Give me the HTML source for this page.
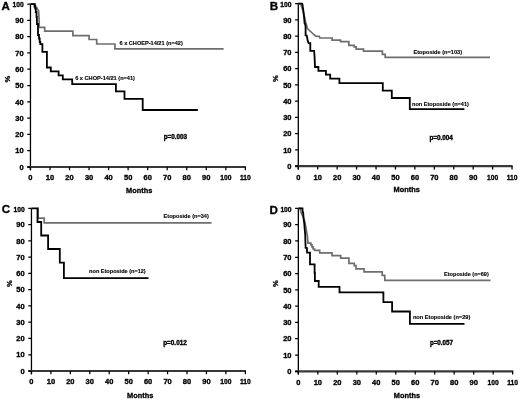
<!DOCTYPE html>
<html><head><meta charset="utf-8"><style>
html,body{margin:0;padding:0;background:#fff;}
svg{display:block;will-change:transform;}
text{font-family:"Liberation Sans", sans-serif;font-weight:bold;fill:#000;stroke:#000;stroke-width:0.3px;}
</style></head><body>
<svg width="520" height="400" viewBox="0 0 520 400">
<rect width="520" height="400" fill="#fff"/>
<path d="M30.45 4.05V170.20" stroke="#000" stroke-width="1.3" fill="none"/>
<path d="M27.25 167.00H245.95" stroke="#383838" stroke-width="2.2" fill="none"/>
<path d="M27.25 167.00H30.45M27.25 150.71H30.45M27.25 134.41H30.45M27.25 118.12H30.45M27.25 101.82H30.45M27.25 85.53H30.45M27.25 69.23H30.45M27.25 52.94H30.45M27.25 36.64H30.45M27.25 20.34H30.45M27.25 4.05H30.45M30.45 167.00V170.20M49.99 167.00V170.20M69.52 167.00V170.20M89.06 167.00V170.20M108.60 167.00V170.20M128.13 167.00V170.20M147.67 167.00V170.20M167.20 167.00V170.20M186.74 167.00V170.20M206.28 167.00V170.20M225.81 167.00V170.20M245.35 167.00V170.20" stroke="#000" stroke-width="1.25" fill="none"/>
<text transform="translate(23.65 169.70) scale(1.12 1)" font-size="6.7" text-anchor="end">0</text>
<text transform="translate(23.65 153.41) scale(1.12 1)" font-size="6.7" text-anchor="end">10</text>
<text transform="translate(23.65 137.11) scale(1.12 1)" font-size="6.7" text-anchor="end">20</text>
<text transform="translate(23.65 120.82) scale(1.12 1)" font-size="6.7" text-anchor="end">30</text>
<text transform="translate(23.65 104.52) scale(1.12 1)" font-size="6.7" text-anchor="end">40</text>
<text transform="translate(23.65 88.23) scale(1.12 1)" font-size="6.7" text-anchor="end">50</text>
<text transform="translate(23.65 71.93) scale(1.12 1)" font-size="6.7" text-anchor="end">60</text>
<text transform="translate(23.65 55.64) scale(1.12 1)" font-size="6.7" text-anchor="end">70</text>
<text transform="translate(23.65 39.34) scale(1.12 1)" font-size="6.7" text-anchor="end">80</text>
<text transform="translate(23.65 23.04) scale(1.12 1)" font-size="6.7" text-anchor="end">90</text>
<text transform="translate(23.65 7.25) scale(1.0 1)" font-size="6.7" text-anchor="end">100</text>
<text transform="translate(30.45 180.45) scale(1.12 1)" font-size="6.7" text-anchor="middle">0</text>
<text transform="translate(49.99 180.45) scale(1.12 1)" font-size="6.7" text-anchor="middle">10</text>
<text transform="translate(69.52 180.45) scale(1.12 1)" font-size="6.7" text-anchor="middle">20</text>
<text transform="translate(89.06 180.45) scale(1.12 1)" font-size="6.7" text-anchor="middle">30</text>
<text transform="translate(108.60 180.45) scale(1.12 1)" font-size="6.7" text-anchor="middle">40</text>
<text transform="translate(128.13 180.45) scale(1.12 1)" font-size="6.7" text-anchor="middle">50</text>
<text transform="translate(147.67 180.45) scale(1.12 1)" font-size="6.7" text-anchor="middle">60</text>
<text transform="translate(167.20 180.45) scale(1.12 1)" font-size="6.7" text-anchor="middle">70</text>
<text transform="translate(186.74 180.45) scale(1.12 1)" font-size="6.7" text-anchor="middle">80</text>
<text transform="translate(206.28 180.45) scale(1.12 1)" font-size="6.7" text-anchor="middle">90</text>
<text transform="translate(225.81 180.45) scale(1.0 1)" font-size="6.7" text-anchor="middle">100</text>
<text transform="translate(245.35 180.45) scale(1.0 1)" font-size="6.7" text-anchor="middle">110</text>
<text x="126.10" y="193.30" font-size="7.3" textLength="26.2" lengthAdjust="spacingAndGlyphs">Months</text>
<text x="0" y="0" font-size="7.6" text-anchor="middle" transform="translate(9.90 79.20) rotate(-90)">%</text>
<text x="1.60" y="10.20" font-size="11.6">A</text>
<path d="M298.30 3.60V169.40" stroke="#000" stroke-width="1.3" fill="none"/>
<path d="M295.10 166.15H512.65" stroke="#383838" stroke-width="2.2" fill="none"/>
<path d="M295.10 166.15H298.30M295.10 149.90H298.30M295.10 133.64H298.30M295.10 117.38H298.30M295.10 101.13H298.30M295.10 84.88H298.30M295.10 68.62H298.30M295.10 52.36H298.30M295.10 36.11H298.30M295.10 19.85H298.30M295.10 3.60H298.30M298.30 166.15V169.40M317.73 166.15V169.40M337.16 166.15V169.40M356.60 166.15V169.40M376.03 166.15V169.40M395.46 166.15V169.40M414.89 166.15V169.40M434.32 166.15V169.40M453.75 166.15V169.40M473.19 166.15V169.40M492.62 166.15V169.40M512.05 166.15V169.40" stroke="#000" stroke-width="1.25" fill="none"/>
<text transform="translate(291.50 168.85) scale(1.12 1)" font-size="6.7" text-anchor="end">0</text>
<text transform="translate(291.50 152.59) scale(1.12 1)" font-size="6.7" text-anchor="end">10</text>
<text transform="translate(291.50 136.34) scale(1.12 1)" font-size="6.7" text-anchor="end">20</text>
<text transform="translate(291.50 120.08) scale(1.12 1)" font-size="6.7" text-anchor="end">30</text>
<text transform="translate(291.50 103.83) scale(1.12 1)" font-size="6.7" text-anchor="end">40</text>
<text transform="translate(291.50 87.58) scale(1.12 1)" font-size="6.7" text-anchor="end">50</text>
<text transform="translate(291.50 71.32) scale(1.12 1)" font-size="6.7" text-anchor="end">60</text>
<text transform="translate(291.50 55.06) scale(1.12 1)" font-size="6.7" text-anchor="end">70</text>
<text transform="translate(291.50 38.81) scale(1.12 1)" font-size="6.7" text-anchor="end">80</text>
<text transform="translate(291.50 22.55) scale(1.12 1)" font-size="6.7" text-anchor="end">90</text>
<text transform="translate(291.50 6.80) scale(1.0 1)" font-size="6.7" text-anchor="end">100</text>
<text transform="translate(298.30 179.60) scale(1.12 1)" font-size="6.7" text-anchor="middle">0</text>
<text transform="translate(317.73 179.60) scale(1.12 1)" font-size="6.7" text-anchor="middle">10</text>
<text transform="translate(337.16 179.60) scale(1.12 1)" font-size="6.7" text-anchor="middle">20</text>
<text transform="translate(356.60 179.60) scale(1.12 1)" font-size="6.7" text-anchor="middle">30</text>
<text transform="translate(376.03 179.60) scale(1.12 1)" font-size="6.7" text-anchor="middle">40</text>
<text transform="translate(395.46 179.60) scale(1.12 1)" font-size="6.7" text-anchor="middle">50</text>
<text transform="translate(414.89 179.60) scale(1.12 1)" font-size="6.7" text-anchor="middle">60</text>
<text transform="translate(434.32 179.60) scale(1.12 1)" font-size="6.7" text-anchor="middle">70</text>
<text transform="translate(453.75 179.60) scale(1.12 1)" font-size="6.7" text-anchor="middle">80</text>
<text transform="translate(473.19 179.60) scale(1.12 1)" font-size="6.7" text-anchor="middle">90</text>
<text transform="translate(492.62 179.60) scale(1.0 1)" font-size="6.7" text-anchor="middle">100</text>
<text transform="translate(512.05 179.60) scale(1.0 1)" font-size="6.7" text-anchor="middle">110</text>
<text x="393.60" y="192.30" font-size="7.3" textLength="26.2" lengthAdjust="spacingAndGlyphs">Months</text>
<text x="0" y="0" font-size="7.6" text-anchor="middle" transform="translate(277.80 78.50) rotate(-90)">%</text>
<text x="269.80" y="10.30" font-size="11.6">B</text>
<path d="M31.45 208.45V374.30" stroke="#000" stroke-width="1.3" fill="none"/>
<path d="M28.25 371.00H245.95" stroke="#383838" stroke-width="2.2" fill="none"/>
<path d="M28.25 371.00H31.45M28.25 354.75H31.45M28.25 338.49H31.45M28.25 322.24H31.45M28.25 305.98H31.45M28.25 289.73H31.45M28.25 273.47H31.45M28.25 257.21H31.45M28.25 240.96H31.45M28.25 224.70H31.45M28.25 208.45H31.45M31.45 371.00V374.30M50.90 371.00V374.30M70.34 371.00V374.30M89.79 371.00V374.30M109.23 371.00V374.30M128.68 371.00V374.30M148.12 371.00V374.30M167.57 371.00V374.30M187.01 371.00V374.30M206.46 371.00V374.30M225.90 371.00V374.30M245.35 371.00V374.30" stroke="#000" stroke-width="1.25" fill="none"/>
<text transform="translate(24.65 373.70) scale(1.12 1)" font-size="6.7" text-anchor="end">0</text>
<text transform="translate(24.65 357.44) scale(1.12 1)" font-size="6.7" text-anchor="end">10</text>
<text transform="translate(24.65 341.19) scale(1.12 1)" font-size="6.7" text-anchor="end">20</text>
<text transform="translate(24.65 324.94) scale(1.12 1)" font-size="6.7" text-anchor="end">30</text>
<text transform="translate(24.65 308.68) scale(1.12 1)" font-size="6.7" text-anchor="end">40</text>
<text transform="translate(24.65 292.43) scale(1.12 1)" font-size="6.7" text-anchor="end">50</text>
<text transform="translate(24.65 276.17) scale(1.12 1)" font-size="6.7" text-anchor="end">60</text>
<text transform="translate(24.65 259.91) scale(1.12 1)" font-size="6.7" text-anchor="end">70</text>
<text transform="translate(24.65 243.66) scale(1.12 1)" font-size="6.7" text-anchor="end">80</text>
<text transform="translate(24.65 227.40) scale(1.12 1)" font-size="6.7" text-anchor="end">90</text>
<text transform="translate(24.65 211.65) scale(1.0 1)" font-size="6.7" text-anchor="end">100</text>
<text transform="translate(31.45 384.45) scale(1.12 1)" font-size="6.7" text-anchor="middle">0</text>
<text transform="translate(50.90 384.45) scale(1.12 1)" font-size="6.7" text-anchor="middle">10</text>
<text transform="translate(70.34 384.45) scale(1.12 1)" font-size="6.7" text-anchor="middle">20</text>
<text transform="translate(89.79 384.45) scale(1.12 1)" font-size="6.7" text-anchor="middle">30</text>
<text transform="translate(109.23 384.45) scale(1.12 1)" font-size="6.7" text-anchor="middle">40</text>
<text transform="translate(128.68 384.45) scale(1.12 1)" font-size="6.7" text-anchor="middle">50</text>
<text transform="translate(148.12 384.45) scale(1.12 1)" font-size="6.7" text-anchor="middle">60</text>
<text transform="translate(167.57 384.45) scale(1.12 1)" font-size="6.7" text-anchor="middle">70</text>
<text transform="translate(187.01 384.45) scale(1.12 1)" font-size="6.7" text-anchor="middle">80</text>
<text transform="translate(206.46 384.45) scale(1.12 1)" font-size="6.7" text-anchor="middle">90</text>
<text transform="translate(225.90 384.45) scale(1.0 1)" font-size="6.7" text-anchor="middle">100</text>
<text transform="translate(245.35 384.45) scale(1.0 1)" font-size="6.7" text-anchor="middle">110</text>
<text x="127.10" y="397.50" font-size="7.3" textLength="26.2" lengthAdjust="spacingAndGlyphs">Months</text>
<text x="0" y="0" font-size="7.6" text-anchor="middle" transform="translate(11.60 283.50) rotate(-90)">%</text>
<text x="1.80" y="212.80" font-size="11.6">C</text>
<path d="M298.35 208.40V374.50" stroke="#000" stroke-width="1.3" fill="none"/>
<path d="M295.15 371.30H513.25" stroke="#383838" stroke-width="2.2" fill="none"/>
<path d="M295.15 371.30H298.35M295.15 355.01H298.35M295.15 338.72H298.35M295.15 322.43H298.35M295.15 306.14H298.35M295.15 289.85H298.35M295.15 273.56H298.35M295.15 257.27H298.35M295.15 240.98H298.35M295.15 224.69H298.35M295.15 208.40H298.35M298.35 371.30V374.50M317.83 371.30V374.50M337.31 371.30V374.50M356.80 371.30V374.50M376.28 371.30V374.50M395.76 371.30V374.50M415.24 371.30V374.50M434.72 371.30V374.50M454.20 371.30V374.50M473.69 371.30V374.50M493.17 371.30V374.50M512.65 371.30V374.50" stroke="#000" stroke-width="1.25" fill="none"/>
<text transform="translate(291.55 374.00) scale(1.12 1)" font-size="6.7" text-anchor="end">0</text>
<text transform="translate(291.55 357.71) scale(1.12 1)" font-size="6.7" text-anchor="end">10</text>
<text transform="translate(291.55 341.42) scale(1.12 1)" font-size="6.7" text-anchor="end">20</text>
<text transform="translate(291.55 325.13) scale(1.12 1)" font-size="6.7" text-anchor="end">30</text>
<text transform="translate(291.55 308.84) scale(1.12 1)" font-size="6.7" text-anchor="end">40</text>
<text transform="translate(291.55 292.55) scale(1.12 1)" font-size="6.7" text-anchor="end">50</text>
<text transform="translate(291.55 276.26) scale(1.12 1)" font-size="6.7" text-anchor="end">60</text>
<text transform="translate(291.55 259.97) scale(1.12 1)" font-size="6.7" text-anchor="end">70</text>
<text transform="translate(291.55 243.68) scale(1.12 1)" font-size="6.7" text-anchor="end">80</text>
<text transform="translate(291.55 227.39) scale(1.12 1)" font-size="6.7" text-anchor="end">90</text>
<text transform="translate(291.55 211.60) scale(1.0 1)" font-size="6.7" text-anchor="end">100</text>
<text transform="translate(298.35 384.75) scale(1.12 1)" font-size="6.7" text-anchor="middle">0</text>
<text transform="translate(317.83 384.75) scale(1.12 1)" font-size="6.7" text-anchor="middle">10</text>
<text transform="translate(337.31 384.75) scale(1.12 1)" font-size="6.7" text-anchor="middle">20</text>
<text transform="translate(356.80 384.75) scale(1.12 1)" font-size="6.7" text-anchor="middle">30</text>
<text transform="translate(376.28 384.75) scale(1.12 1)" font-size="6.7" text-anchor="middle">40</text>
<text transform="translate(395.76 384.75) scale(1.12 1)" font-size="6.7" text-anchor="middle">50</text>
<text transform="translate(415.24 384.75) scale(1.12 1)" font-size="6.7" text-anchor="middle">60</text>
<text transform="translate(434.72 384.75) scale(1.12 1)" font-size="6.7" text-anchor="middle">70</text>
<text transform="translate(454.20 384.75) scale(1.12 1)" font-size="6.7" text-anchor="middle">80</text>
<text transform="translate(473.69 384.75) scale(1.12 1)" font-size="6.7" text-anchor="middle">90</text>
<text transform="translate(493.17 384.75) scale(1.0 1)" font-size="6.7" text-anchor="middle">100</text>
<text transform="translate(512.65 384.75) scale(1.0 1)" font-size="6.7" text-anchor="middle">110</text>
<text x="393.80" y="397.50" font-size="7.3" textLength="26.2" lengthAdjust="spacingAndGlyphs">Months</text>
<text x="0" y="0" font-size="7.6" text-anchor="middle" transform="translate(277.80 283.50) rotate(-90)">%</text>
<text x="269.60" y="214.40" font-size="11.6">D</text>
<path d="M30.45 4.05 L35.30 4.05 L35.50 7.10 L36.60 7.50 L37.40 9.00 L38.50 10.50 L38.90 15.00 L39.20 22.50 L39.20 27.30 L44.70 27.30 L44.70 31.20 L72.90 31.20 L72.90 35.70 L89.10 35.70 L89.10 39.50 L96.70 39.50 L96.70 44.00 L114.90 44.00 L114.90 48.90 L223.60 48.90 L223.60 48.90" stroke="#6e6e6e" stroke-width="1.7" fill="none" stroke-linejoin="miter" stroke-miterlimit="2"/>
<path d="M30.45 4.05 L34.50 4.05 L34.50 6.50 L35.20 6.50 L35.20 8.50 L35.80 8.50 L35.80 12.00 L36.50 12.00 L36.50 17.00 L36.90 17.00 L36.90 24.00 L38.00 24.00 L38.00 35.00 L39.00 35.00 L39.00 38.50 L39.70 38.50 L39.70 42.00 L40.30 42.00 L40.30 44.20 L42.40 44.20 L42.40 51.80 L46.90 51.80 L46.90 67.50 L50.80 67.50 L50.80 71.40 L58.60 71.40 L58.60 75.30 L62.80 75.30 L62.80 79.40 L72.20 79.40 L72.20 84.20 L115.90 84.20 L115.90 91.40 L124.50 91.40 L124.50 98.80 L142.70 98.80 L142.70 110.00 L197.80 110.00 L197.80 110.00" stroke="#000" stroke-width="1.8" fill="none" stroke-linejoin="miter" stroke-miterlimit="2"/>
<path d="M298.30 3.60 L300.60 3.70 L300.90 4.60 L301.90 7.50 L302.90 10.50 L303.70 13.50 L304.40 16.50 L305.10 19.50 L305.80 22.50 L306.50 25.00 L307.40 28.50 L309.50 30.50 L312.20 33.00 L314.20 34.80 L315.60 36.10 L319.25 36.30 L319.80 38.00 L332.10 38.00 L332.10 40.10 L340.50 40.10 L340.50 41.55 L348.80 41.55 L348.80 45.30 L354.20 45.30 L354.20 46.90 L356.20 46.90 L356.20 49.05 L363.50 49.05 L363.50 51.15 L382.40 51.15 L382.40 54.40 L385.20 54.40 L385.20 57.40 L490.00 57.40 L490.00 57.40" stroke="#6e6e6e" stroke-width="1.7" fill="none" stroke-linejoin="miter" stroke-miterlimit="2"/>
<path d="M298.30 3.60 L302.10 3.60 L302.50 4.50 L302.90 7.50 L303.25 9.75 L303.60 12.75 L304.00 16.50 L304.40 21.00 L304.50 23.00 L305.25 24.50 L305.60 27.50 L305.60 35.30 L306.75 35.60 L307.50 39.50 L308.25 42.50 L308.90 43.20 L310.30 43.20 L310.30 50.90 L314.10 50.90 L314.60 57.30 L315.00 67.00 L318.40 67.00 L318.40 70.80 L325.90 70.80 L325.90 74.60 L330.20 74.60 L330.20 78.70 L339.40 78.70 L339.40 83.10 L382.80 83.10 L382.80 90.60 L391.80 90.60 L391.80 98.00 L409.80 98.00 L409.80 109.20 L464.40 109.20 L464.40 109.20" stroke="#000" stroke-width="1.8" fill="none" stroke-linejoin="miter" stroke-miterlimit="2"/>
<path d="M37.80 208.45 L38.10 208.45 L38.10 218.10 L44.20 218.10 L44.20 222.80 L211.50 222.80 L211.50 222.80" stroke="#6e6e6e" stroke-width="1.7" fill="none" stroke-linejoin="miter" stroke-miterlimit="2"/>
<path d="M31.45 208.45 L37.50 208.45 L37.50 222.00 L41.20 222.00 L41.20 235.50 L48.10 235.50 L48.10 249.00 L59.80 249.00 L59.80 262.70 L63.90 262.70 L63.90 278.10 L148.50 278.10 L148.50 278.10" stroke="#000" stroke-width="1.8" fill="none" stroke-linejoin="miter" stroke-miterlimit="2"/>
<path d="M298.35 208.40 L300.30 208.40 L300.60 211.00 L301.30 213.00 L302.30 215.00 L303.00 217.00 L303.90 219.00 L304.60 221.00 L305.10 223.00 L305.60 226.00 L306.00 228.00 L306.75 232.50 L307.50 237.00 L307.90 241.50 L307.90 243.20 L310.90 243.20 L310.90 244.80 L312.00 244.80 L312.00 246.80 L313.10 246.80 L313.10 249.00 L314.60 249.00 L314.60 250.40 L319.70 250.40 L319.70 252.80 L332.00 252.80 L332.00 255.60 L340.70 255.60 L340.70 258.10 L348.90 258.10 L348.90 263.40 L354.30 263.40 L354.30 265.70 L356.00 265.70 L356.00 268.90 L364.00 268.90 L364.00 271.80 L382.20 271.80 L382.20 275.40 L384.80 275.40 L384.80 280.30 L490.50 280.30 L490.50 280.30" stroke="#6e6e6e" stroke-width="1.7" fill="none" stroke-linejoin="miter" stroke-miterlimit="2"/>
<path d="M298.35 208.40 L302.50 208.40 L302.50 210.50 L302.90 212.00 L303.25 213.50 L303.40 216.00 L303.60 218.00 L303.90 221.00 L304.30 224.00 L304.60 228.00 L304.90 231.00 L305.25 235.50 L305.40 241.50 L305.60 247.70 L306.90 248.00 L307.10 252.60 L310.00 252.60 L310.00 264.40 L314.10 264.40 L314.10 264.40 L314.60 264.40 L314.60 273.00 L314.90 273.00 L314.90 281.00 L318.70 281.00 L318.70 286.80 L339.50 286.80 L339.50 292.40 L383.40 292.40 L383.40 302.10 L392.10 302.10 L392.10 311.50 L409.90 311.50 L409.90 323.80 L464.50 323.80 L464.50 323.80" stroke="#000" stroke-width="1.8" fill="none" stroke-linejoin="miter" stroke-miterlimit="2"/>
<text x="119.50" y="45.40" font-size="5.8" textLength="63.3" lengthAdjust="spacingAndGlyphs" style="stroke-width:0.12px">6 x CHOEP-14/21 (n=42)</text>
<text x="75.20" y="80.25" font-size="5.8" textLength="59.8" lengthAdjust="spacingAndGlyphs" style="stroke-width:0.12px">6 x CHOP-14/21 (n=41)</text>
<text x="412.00" y="105.90" font-size="5.8" textLength="56.9" lengthAdjust="spacingAndGlyphs" style="stroke-width:0.12px">non Etoposide (n=41)</text>
<text x="413.50" y="54.10" font-size="5.8" textLength="48.6" lengthAdjust="spacingAndGlyphs" style="stroke-width:0.12px">Etoposide (n=103)</text>
<text x="163.60" y="218.00" font-size="5.8" textLength="45.2" lengthAdjust="spacingAndGlyphs" style="stroke-width:0.12px">Etoposide (n=34)</text>
<text x="89.10" y="273.40" font-size="5.8" textLength="56.6" lengthAdjust="spacingAndGlyphs" style="stroke-width:0.12px">non Etoposide (n=12)</text>
<text x="444.10" y="276.40" font-size="5.8" textLength="44.7" lengthAdjust="spacingAndGlyphs" style="stroke-width:0.12px">Etoposide (n=69)</text>
<text x="412.90" y="319.10" font-size="5.8" textLength="57.4" lengthAdjust="spacingAndGlyphs" style="stroke-width:0.12px">non Etoposide (n=29)</text>
<text x="163.70" y="138.60" font-size="6.3" textLength="23.4" lengthAdjust="spacingAndGlyphs" style="stroke-width:0.35px">p=0.003</text>
<text x="429.40" y="139.90" font-size="6.3" textLength="23.5" lengthAdjust="spacingAndGlyphs" style="stroke-width:0.35px">p=0.004</text>
<text x="163.20" y="344.90" font-size="6.3" textLength="23.6" lengthAdjust="spacingAndGlyphs" style="stroke-width:0.35px">p=0.012</text>
<text x="429.90" y="344.90" font-size="6.3" textLength="23.1" lengthAdjust="spacingAndGlyphs" style="stroke-width:0.35px">p=0.057</text>
</svg>
</body></html>
